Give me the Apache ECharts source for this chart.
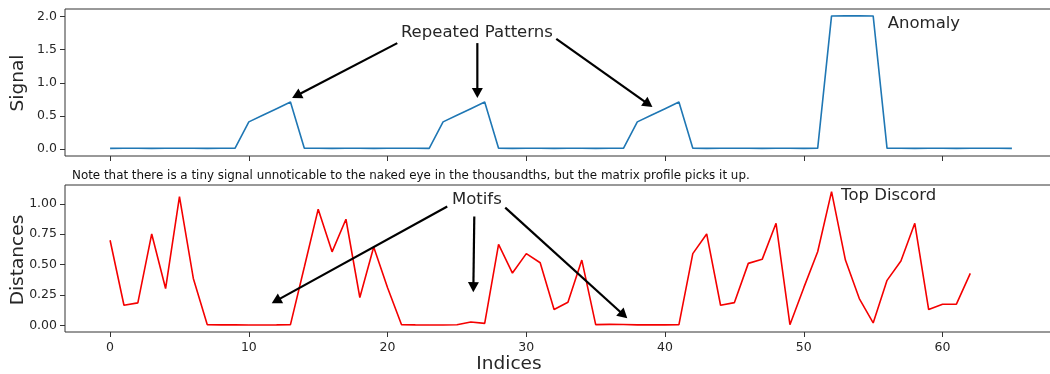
<!DOCTYPE html>
<html>
<head>
<meta charset="utf-8">
<script src="https://cdn.jsdelivr.net/npm/echarts@6/dist/echarts.min.js"></script>
<style>
  html, body { margin: 0; padding: 0; background: #ffffff; }
  #chart { width: 1050px; height: 374px; }
</style>
</head>
<body>
<div id="chart"></div>
<script>
// Raw signal: three repeated ramps and one plateau anomaly over a tiny baseline
const signal = [
  0.010, 0.011, 0.012, 0.010, 0.013, 0.011, 0.012, 0.010, 0.011, 0.012,
  0.41, 0.51, 0.61, 0.71,
  0.011, 0.012, 0.010, 0.013, 0.011, 0.010, 0.012, 0.011, 0.013, 0.010,
  0.41, 0.51, 0.61, 0.71,
  0.012, 0.010, 0.011, 0.013, 0.010, 0.012, 0.011, 0.010, 0.012, 0.011,
  0.41, 0.51, 0.61, 0.71,
  0.011, 0.010, 0.012, 0.011, 0.013, 0.010, 0.011, 0.012, 0.010, 0.011,
  2.010, 2.012, 2.011, 2.010,
  0.011, 0.012, 0.010, 0.013, 0.011, 0.010, 0.012, 0.011, 0.013, 0.010
];

// Matrix profile distances (window of 4 samples)
const distances = [
  0.70, 0.165, 0.185, 0.752, 0.303, 1.06, 0.386, 0.006, 0.004, 0.004,
  0.003, 0.003, 0.004, 0.006, 0.48, 0.956, 0.605, 0.873, 0.229, 0.645,
  0.31, 0.006, 0.004, 0.003, 0.003, 0.005, 0.027, 0.016, 0.667, 0.43,
  0.59, 0.515, 0.13, 0.19, 0.537, 0.006, 0.008, 0.007, 0.004, 0.004,
  0.004, 0.006, 0.59, 0.752, 0.165, 0.187, 0.51, 0.543, 0.84, 0.005,
  0.31, 0.606, 1.10, 0.537, 0.22, 0.02, 0.37, 0.53, 0.84, 0.13,
  0.174, 0.174, 0.427
];

const xTicks = [0, 10, 20, 30, 40, 50, 60];
const signalTicks = [0, 0.5, 1.0, 1.5, 2.0];
const distanceTicks = [0, 0.25, 0.5, 0.75, 1.0];

const signalLabel = 'Signal';
const distanceLabel = 'Distances';
const indexLabel = 'Indices';
const noteText = 'Note that there is a tiny signal unnoticable to the naked eye in the thousandths, but the matrix profile picks it up.';

// Annotations in data coordinates: text anchor and arrows [from, to]
const annotations = [
  { grid: 0, text: 'Repeated Patterns', at: [20.96, 1.75],
    arrows: [[[20.70, 1.60], [13.12, 0.771]],
             [[26.47, 1.60], [26.47, 0.771]],
             [[32.16, 1.663], [39.09, 0.635]]] },
  { grid: 0, text: 'Anomaly', at: [56.05, 1.90], arrows: [] },
  { grid: 1, text: 'Motifs', at: [24.64, 1.036],
    arrows: [[[24.30, 0.978], [11.65, 0.182]],
             [[26.25, 0.895], [26.18, 0.273]],
             [[28.48, 0.969], [37.28, 0.058]]] },
  { grid: 1, text: 'Top Discord', at: [52.69, 1.063], arrows: [] }
];

const FONT = 'DejaVu Sans';
const INK = '#262626';
const SPINE = '#333333';

const toPairs = arr => arr.map((v, i) => [i, v]);

const chart = echarts.init(document.getElementById('chart'), null, { renderer: 'canvas' });

function xAxisFor(gridIndex, showLabels) {
  return {
    type: 'value', gridIndex, min: -3.25, max: 68.25,
    axisLine: { show: false, onZero: false },
    splitLine: { show: false },
    axisTick: { show: true, inside: false, length: 5, customValues: xTicks,
                lineStyle: { color: SPINE, width: 1 } },
    axisLabel: { show: showLabels, customValues: xTicks, color: INK,
                 fontFamily: FONT, fontSize: 12.5, margin: 9 }
  };
}

function yAxisFor(gridIndex, min, max, ticks, digits) {
  return {
    type: 'value', gridIndex, min, max,
    axisLine: { show: false, onZero: false },
    splitLine: { show: false },
    axisTick: { show: true, inside: false, length: 5, customValues: ticks,
                lineStyle: { color: SPINE, width: 1 } },
    axisLabel: { customValues: ticks, color: INK, fontFamily: FONT, fontSize: 12.5,
                 margin: 8, formatter: v => v.toFixed(digits) }
  };
}

chart.setOption({
  animation: false,
  backgroundColor: '#ffffff',
  grid: [
    { left: 65, top: 9, width: 992, height: 147, show: true, outerBoundsMode: 'none',
      containLabel: false, borderColor: SPINE, borderWidth: 1, backgroundColor: 'transparent' },
    { left: 65, top: 185, width: 992, height: 147, show: true, outerBoundsMode: 'none',
      containLabel: false, borderColor: SPINE, borderWidth: 1, backgroundColor: 'transparent' }
  ],
  xAxis: [xAxisFor(0, false), xAxisFor(1, true)],
  yAxis: [
    yAxisFor(0, -0.105, 2.115, signalTicks, 1),
    yAxisFor(1, -0.055, 1.155, distanceTicks, 2)
  ],
  series: [
    { type: 'line', xAxisIndex: 0, yAxisIndex: 0, data: toPairs(signal),
      showSymbol: false, lineStyle: { color: '#1f77b4', width: 1.6 } },
    { type: 'line', xAxisIndex: 1, yAxisIndex: 1, data: toPairs(distances),
      showSymbol: false, lineStyle: { color: '#f40000', width: 1.6 } }
  ]
});

// Text and arrows placed through the axes' own coordinate conversion
const graphics = [];
const annFont = '16.5px "' + FONT + '"';
const HEAD_LEN = 10, HEAD_HALF = 5.5;

annotations.forEach(a => {
  const p = chart.convertToPixel({ gridIndex: a.grid }, a.at);
  graphics.push({ type: 'text', x: p[0], y: p[1], z: 10,
    style: { text: a.text, font: annFont, fill: INK, align: 'left', verticalAlign: 'middle' } });
  a.arrows.forEach(([from, to]) => {
    const s = chart.convertToPixel({ gridIndex: a.grid }, from);
    const e = chart.convertToPixel({ gridIndex: a.grid }, to);
    const dx = e[0] - s[0], dy = e[1] - s[1];
    const len = Math.hypot(dx, dy);
    const ux = dx / len, uy = dy / len;
    const bx = e[0] - ux * HEAD_LEN, by = e[1] - uy * HEAD_LEN;
    graphics.push({ type: 'line', z: 10,
      shape: { x1: s[0], y1: s[1], x2: bx + ux, y2: by + uy },
      style: { stroke: '#000000', lineWidth: 2.2 } });
    graphics.push({ type: 'polygon', z: 10,
      shape: { points: [[e[0], e[1]],
                        [bx - uy * HEAD_HALF, by + ux * HEAD_HALF],
                        [bx + uy * HEAD_HALF, by - ux * HEAD_HALF]] },
      style: { fill: '#000000' } });
  });
});

const labelFont = '18.5px "' + FONT + '"';
graphics.push({ type: 'text', x: 18, y: 83, rotation: Math.PI / 2,
  style: { text: signalLabel, font: labelFont, fill: INK, align: 'center', verticalAlign: 'middle' } });
graphics.push({ type: 'text', x: 18, y: 260, rotation: Math.PI / 2,
  style: { text: distanceLabel, font: labelFont, fill: INK, align: 'center', verticalAlign: 'middle' } });
graphics.push({ type: 'text', x: 509, y: 364,
  style: { text: indexLabel, font: labelFont, fill: INK, align: 'center', verticalAlign: 'middle' } });
graphics.push({ type: 'text', x: 72, y: 176,
  style: { text: noteText, font: '11.9px "' + FONT + '"', fill: '#111111', align: 'left', verticalAlign: 'middle' } });

chart.setOption({ graphic: graphics });
</script>
</body>
</html>
